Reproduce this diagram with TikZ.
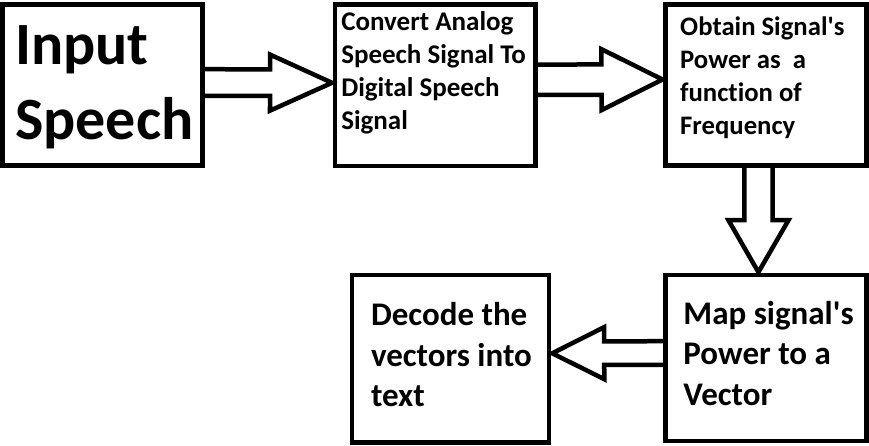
\documentclass[tikz,border=0pt]{standalone}
\usepackage{fontspec}
\setmainfont{Carlito}[Ligatures=NoCommon]
\usetikzlibrary{calc}
\tikzset{stagebox/.style={
  shape=rectangle,
  draw=black,
  line width=4.5pt,
  outer sep=0pt,
  inner sep=0pt,
  },
  stagetext/.style={
  anchor=base west,
  inner sep=0pt,
  align=left,
  font=\bfseries\fontsize{27}{33}\selectfont,
  },
  bigtext/.style={
  stagetext,
  font=\bfseries\fontsize{33}{40.5}\selectfont,
  },
  blockline/.style={
  draw=black,
  line width=4.5pt,
  },
}
% hollow block arrow: start, tip, shaft half width, head half width, head length
\newcommand{\blockarrow}[5]{%
  \coordinate (hb) at ($(#2)!#5!(#1)$);
  \draw[blockline] ($(#1)!#3!90:(#2)$) -- ($(hb)!#3!90:(#2)$) -- ($(hb)!#4!90:(#2)$)
    -- (#2) -- ($(hb)!#4!-90:(#2)$) -- ($(hb)!#3!-90:(#2)$) -- ($(#1)!#3!-90:(#2)$);
}

\begin{document}
\begin{tikzpicture}[x=1pt,y=-1pt]
  \useasboundingbox (0,0) rectangle (869,446);

  % boxes
  \node[stagebox, minimum width=200pt, minimum height=161pt]   (b1) at (102.5,85)  {};
  \node[stagebox, minimum width=200.5pt, minimum height=161.5pt] (b2) at (435.3,85.3) {};
  \node[stagebox, minimum width=201pt, minimum height=161pt]   (b3) at (766,85)    {};
  \node[stagebox, minimum width=201.3pt, minimum height=165.6pt] (b4) at (765.9,358) {};
  \node[stagebox, minimum width=197.4pt, minimum height=167.3pt] (b5) at (450.5,358.8) {};

  % texts (base = baseline of the last line)
  \node[stagetext, font=\bfseries\fontsize{60}{75}\selectfont] (t1)
    at ($(b1.north west)+(12.5,135.5)$) {Input\\Speech};
  \node[stagetext] (t2) at ($(b2.north west)+(6,124.5)$)
    {Convert Analog\\Speech Signal To\\Digital Speech\\Signal};
  \node[stagetext, font=\bfseries\fontsize{26.7}{33.3}\selectfont] (t3)
    at ($(b3.north west)+(14.5,130.5)$)
    {Obtain Signal\textquotesingle s\\Power as\ \ a\\function of\\Frequency};
  \node[bigtext] (t4) at ($(b4.north west)+(18,129.8)$)
    {Map signal\textquotesingle s\\Power to a\\Vector};
  \node[bigtext] (t5) at ($(b5.north west)+(19,131.8)$)
    {Decode the\\vectors into\\text};

  % arrows
  \coordinate (a1s) at ([yshift=2.5pt]b1.east);
  \coordinate (a1e) at ([yshift=2.5pt,xshift=-3pt]b2.west);
  \coordinate (a2s) at ([yshift=5.5pt]b2.east);
  \coordinate (a2e) at ([yshift=5.5pt,xshift=-3pt]b3.west);
  \coordinate (a3s) at ([xshift=-7.5pt]b3.south);
  \coordinate (a3e) at ([xshift=-7.5pt,yshift=3pt]b4.north);
  \coordinate (a4s) at ([yshift=5pt]b4.west);
  \coordinate (a4e) at ([yshift=5.5pt,xshift=3pt]b5.east);

  \blockarrow{a1s}{a1e}{13.3pt}{28pt}{62pt}
  \blockarrow{a2s}{a2e}{15.2pt}{30.5pt}{61pt}
  \blockarrow{a3s}{a3e}{14.2pt}{30pt}{52pt}
  \blockarrow{a4s}{a4e}{11.8pt}{26pt}{52pt}
\end{tikzpicture}
\end{document}
